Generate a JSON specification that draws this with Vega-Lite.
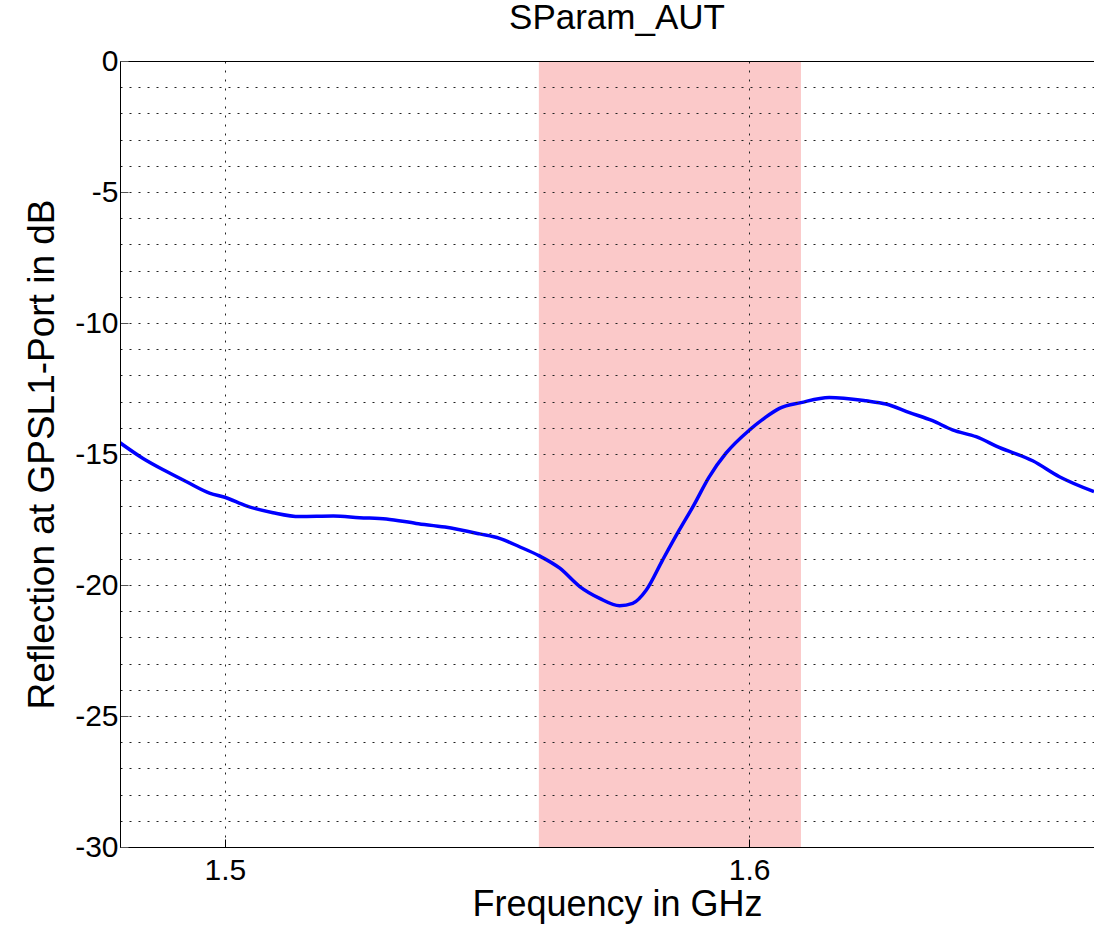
{
  "$schema": "https://vega.github.io/schema/vega-lite/v6.json",
  "width": 974,
  "height": 786,
  "autosize": {"type": "none"},
  "padding": {"left": 120, "top": 61, "right": 0, "bottom": 86},
  "background": "white",
  "title": {"text": "SParam_AUT", "font": "Liberation Sans", "fontSize": 35, "fontWeight": "normal", "color": "black", "anchor": "middle", "frame": "group", "baseline": "alphabetic", "dx": 10, "offset": -18},
  "config": {"view": {"stroke": null}, "font": "Liberation Sans"},
  "datasets": {
    "band": [{"f1": 1.5599, "f2": 1.6099}],
    "s11": [
      {"f": 1.4800, "db": -14.57},
      {"f": 1.4844, "db": -15.17},
      {"f": 1.4889, "db": -15.67},
      {"f": 1.4927, "db": -16.06},
      {"f": 1.4972, "db": -16.50},
      {"f": 1.5000, "db": -16.65},
      {"f": 1.5041, "db": -16.98},
      {"f": 1.5092, "db": -17.24},
      {"f": 1.5143, "db": -17.39},
      {"f": 1.5207, "db": -17.37},
      {"f": 1.5257, "db": -17.43},
      {"f": 1.5308, "db": -17.48},
      {"f": 1.5365, "db": -17.65},
      {"f": 1.5420, "db": -17.79},
      {"f": 1.5486, "db": -18.05},
      {"f": 1.5524, "db": -18.22},
      {"f": 1.5562, "db": -18.54},
      {"f": 1.5600, "db": -18.89},
      {"f": 1.5639, "db": -19.36},
      {"f": 1.5677, "db": -20.06},
      {"f": 1.5715, "db": -20.51},
      {"f": 1.5753, "db": -20.79},
      {"f": 1.5778, "db": -20.70},
      {"f": 1.5804, "db": -20.19},
      {"f": 1.5835, "db": -19.05},
      {"f": 1.5867, "db": -17.90},
      {"f": 1.5893, "db": -17.01},
      {"f": 1.5924, "db": -15.87},
      {"f": 1.5956, "db": -14.97},
      {"f": 1.6001, "db": -14.08},
      {"f": 1.6030, "db": -13.62},
      {"f": 1.6058, "db": -13.26},
      {"f": 1.6099, "db": -13.04},
      {"f": 1.6153, "db": -12.84},
      {"f": 1.6223, "db": -12.97},
      {"f": 1.6261, "db": -13.09},
      {"f": 1.6306, "db": -13.42},
      {"f": 1.6350, "db": -13.73},
      {"f": 1.6388, "db": -14.08},
      {"f": 1.6433, "db": -14.34},
      {"f": 1.6477, "db": -14.75},
      {"f": 1.6541, "db": -15.26},
      {"f": 1.6592, "db": -15.87},
      {"f": 1.6658, "db": -16.44}
    ]
  },
  "layer": [
    {
      "data": {"name": "band"},
      "mark": {"type": "rect", "color": "#fbc9c9", "opacity": 1},
      "encoding": {
        "x": {
          "field": "f1", "type": "quantitative",
          "scale": {"domain": [1.48, 1.6658], "nice": false, "zero": false},
          "axis": {
            "zindex": 1,
            "values": [1.5, 1.6],
            "format": ".1f",
            "title": "Frequency in GHz",
            "titleFont": "Liberation Sans", "titleFontSize": 36, "titleFontWeight": "normal", "titleColor": "black",
            "titleBaseline": "alphabetic", "titleX": 497, "titleY": 68, "titleAnchor": "middle",
            "labelFont": "Liberation Sans", "labelFontSize": 30, "labelColor": "black", "labelPadding": 16,
            "domainColor": "black", "domainWidth": 1,
            "ticks": true, "tickSize": -8, "tickColor": "black", "tickWidth": 1,
            "grid": true, "gridColor": "#222", "gridOpacity": 1, "gridDash": [2, 7], "gridWidth": 1
          }
        },
        "x2": {"field": "f2"}
      }
    },
    {
      "data": {"name": "s11"},
      "mark": {"type": "line", "color": "#0000ff", "strokeWidth": 3.5, "interpolate": "monotone", "clip": true},
      "encoding": {
        "x": {
          "field": "f", "type": "quantitative",
          "scale": {"domain": [1.48, 1.6658], "nice": false, "zero": false}
        },
        "y": {
          "field": "db", "type": "quantitative",
          "scale": {"domain": [-30, 0], "nice": false, "zero": false},
          "axis": {
            "zindex": 1,
            "values": [-30,-29,-28,-27,-26,-25,-24,-23,-22,-21,-20,-19,-18,-17,-16,-15,-14,-13,-12,-11,-10,-9,-8,-7,-6,-5,-4,-3,-2,-1,0],
            "labelExpr": "datum.value % 5 === 0 ? '' + datum.value : ''",
            "title": "Reflection at GPSL1-Port in dB",
            "titleFont": "Liberation Sans", "titleFontSize": 37, "titleFontWeight": "normal", "titleColor": "black",
            "titleBaseline": "alphabetic", "titleX": -67, "titleY": 393, "titleAngle": -90, "titleAnchor": "middle",
            "labelFont": "Liberation Sans", "labelFontSize": 30, "labelColor": "black", "labelPadding": 10,
            "domainColor": "black", "domainWidth": 1,
            "ticks": true, "tickSize": -8, "tickWidth": 1,
            "tickColor": {"condition": {"test": "datum.value % 5 === 0", "value": "#555"}, "value": "transparent"},
            "grid": true, "gridOpacity": 1, "gridWidth": 1,
            "gridColor": {"condition": {"test": "datum.value === 0", "value": "black"}, "value": "#222"},
            "gridDash": {"condition": {"test": "datum.value === 0", "value": []}, "value": [2, 7]}
          }
        }
      }
    }
  ]
}
